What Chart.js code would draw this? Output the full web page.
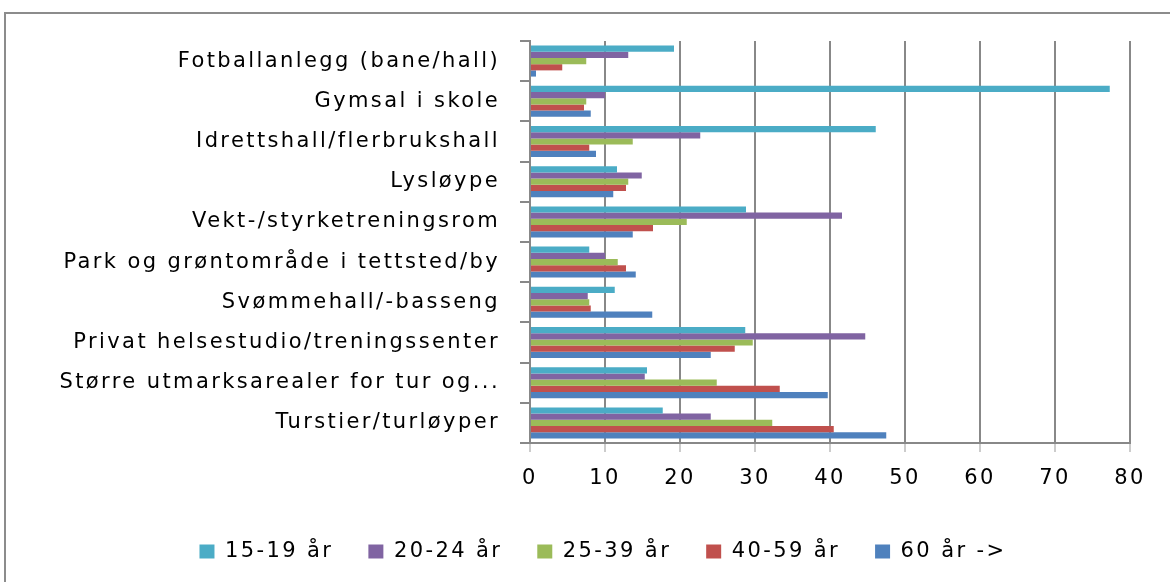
<!DOCTYPE html>
<html>
<head>
<meta charset="utf-8">
<script src="https://cdn.jsdelivr.net/npm/chart.js@4"></script>
<style>
    html, body { margin: 0; padding: 0; background: #fff; }
    #frame { position: absolute; left: 4px; top: 12px; width: 1180px; height: 600px; border: 2px solid #8c8c8c; box-sizing: border-box; }
    #wrap { position: absolute; left: 0; top: 0; width: 1170px; height: 582px; }
</style>
</head>
<body>
<div id="frame"></div>
<div id="wrap"><canvas id="chart" width="1170" height="582"></canvas></div>
<script>
    const categories = [
        "Fotballanlegg (bane/hall)",
        "Gymsal i skole",
        "Idrettshall/flerbrukshall",
        "Lysløype",
        "Vekt-/styrketreningsrom",
        "Park og grøntområde i tettsted/by",
        "Svømmehall/-basseng",
        "Privat helsestudio/treningssenter",
        "Større utmarksarealer for tur og...",
        "Turstier/turløyper"
    ]
    const age15_19 = [19.2, 77.3, 46.1, 11.6, 28.8, 7.9, 11.3, 28.7, 15.6, 17.7]
    const age20_24 = [13.1, 10.0, 22.7, 14.9, 41.6, 10.0, 7.7, 44.7, 15.3, 24.1]
    const age25_39 = [7.5, 7.5, 13.7, 13.1, 20.9, 11.7, 7.9, 29.7, 24.9, 32.3]
    const age40_59 = [4.3, 7.2, 7.9, 12.8, 16.4, 12.8, 8.1, 27.3, 33.3, 40.5]
    const age60 = [0.8, 8.1, 8.8, 11.1, 13.7, 14.1, 16.3, 24.1, 39.7, 47.5]
    const xTicks = [0, 10, 20, 30, 40, 50, 60, 70, 80]

    const seriesNames = ["15-19 år", "20-24 år", "25-39 år", "40-59 år", "60 år ->"]
    const seriesColors = ["#4BACC6", "#8064A2", "#9BBB59", "#C0504D", "#4F81BD"]
    const seriesData = [age15_19, age20_24, age25_39, age40_59, age60]

    const gridColor = "#888888"
    const font = { family: "DejaVu Sans", size: 21 }
    const letterGap = "2.4px"

    // original text is spread out, canvas letterSpacing gets close to it
    // also nudge the legend right a bit, it is not centred on the canvas in the original
    const tweaks = {
        id: "tweaks",
        beforeLayout(chart) { chart.ctx.letterSpacing = letterGap },
        afterLayout(chart) {
            chart.legend.left += 38
            chart.legend.right += 38
        },
        beforeDraw(chart) { chart.ctx.letterSpacing = letterGap }
    }

    const ctx = document.getElementById("chart").getContext("2d")
    const chart = new Chart(ctx, {
        type: "bar",
        data: {
            labels: categories,
            datasets: seriesNames.map((name, i) => ({
                label: name,
                data: seriesData[i],
                backgroundColor: seriesColors[i],
                borderWidth: 0,
                categoryPercentage: 0.77,
                barPercentage: 1.0
            }))
        },
        plugins: [tweaks],
        options: {
            indexAxis: "y",
            responsive: false,
            animation: false,
            layout: { padding: { top: 41, right: 40, bottom: 10, left: 0 } },
            plugins: {
                tooltip: { enabled: false },
                legend: {
                    position: "bottom",
                    labels: {
                        color: "#000",
                        font: font,
                        boxWidth: 15,
                        boxHeight: 14,
                        padding: 35
                    }
                }
            },
            scales: {
                x: {
                    min: 0,
                    max: 80,
                    afterBuildTicks: scale => { scale.ticks = xTicks.map(v => ({ value: v })) },
                    afterFit: scale => { scale.height = 63 },
                    grid: { color: gridColor, lineWidth: 2, tickLength: 9, tickColor: "#999", tickWidth: 1 },
                    border: { color: gridColor, width: 2 },
                    ticks: { color: "#000", font: font, padding: 14 }
                },
                y: {
                    afterFit: scale => { scale.width = 530 },
                    grid: { drawOnChartArea: false, color: gridColor, lineWidth: 2, tickLength: 10, offset: true },
                    border: { color: gridColor, width: 2 },
                    ticks: { color: "#000", font: font, padding: 20 }
                }
            }
        }
    })
</script>
</body>
</html>
